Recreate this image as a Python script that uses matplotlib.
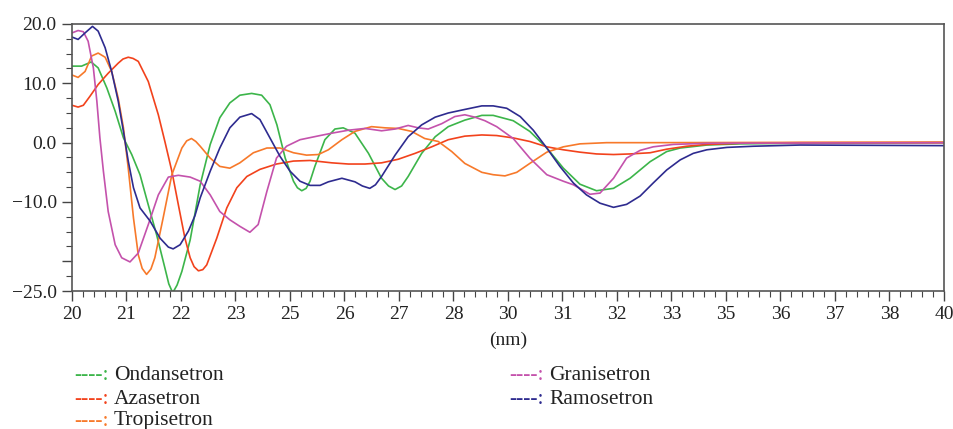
import matplotlib
matplotlib.use("Agg")
import matplotlib.pyplot as plt
from matplotlib.ticker import MultipleLocator

plt.rcParams['font.family'] = ['Liberation Serif', 'DejaVu Serif']

#### DATA ####

# wavelength (nm) / CD signal
ond_x = [200.0, 202.2, 204.4, 206.0, 208.0, 209.9, 211.8, 213.7, 215.6, 217.5, 219.4, 221.3,
         222.2, 223.1, 224.1, 225.2, 227.1, 229.4, 231.7, 233.9, 236.2, 238.5, 241.2, 243.5,
         245.4, 247.0, 248.9, 250.8, 251.7, 252.7, 253.7, 254.6, 255.7, 258.0, 260.3, 262.2,
         264.9, 268.0, 271.0, 272.6, 274.1, 275.6, 277.1, 280.2, 283.3, 286.3, 290.1, 294.0,
         296.6, 301.2, 305.0, 308.9, 312.7, 316.5, 320.3, 324.2, 328.0, 332.6, 336.4, 339.5,
         345.6, 353.2, 367.0, 400.0]
ond_y = [12.9, 12.9, 13.6, 12.6, 9.2, 5.3, 0.8, -2.0, -5.4, -10.5, -15.5, -21.1,
         -23.8, -25.3, -24.0, -21.7, -16.4, -7.1, -0.3, 4.2, 6.7, 8.0, 8.3, 8.0,
         6.4, 3.0, -2.6, -6.5, -7.6, -8.1, -7.7, -6.5, -4.0, 0.5, 2.3, 2.5,
         1.6, -1.8, -6.0, -7.3, -7.9, -7.3, -5.7, -1.8, 1.0, 2.7, 3.8, 4.6,
         4.6, 3.7, 1.9, -0.9, -4.3, -7.0, -8.1, -7.7, -6.0, -3.2, -1.5, -0.9,
         -0.4, -0.2, -0.1, 0.0]

aza_x = [200.0, 201.4, 202.6, 204.1, 206.0, 208.3, 210.6, 211.7, 212.9, 214.0, 215.2, 217.5,
         219.8, 221.3, 222.9, 224.4, 225.9, 227.1, 228.0, 229.0, 230.0, 230.9, 233.2, 235.5,
         237.8, 240.1, 243.1, 246.9, 250.8, 254.6, 259.6, 263.4, 267.2, 271.0, 274.8, 278.7,
         282.5, 286.3, 290.1, 294.0, 297.4, 301.2, 305.0, 308.9, 312.7, 316.5, 320.3, 324.2,
         328.0, 332.6, 336.4, 341.0, 345.6, 353.2, 367.0, 400.0]
aza_y = [6.3, 6.0, 6.3, 7.8, 9.8, 11.7, 13.4, 14.1, 14.4, 14.2, 13.7, 10.3,
         4.7, 0.2, -4.8, -10.5, -16.1, -19.4, -20.9, -21.6, -21.4, -20.6, -16.1, -11.0,
         -7.6, -5.7, -4.5, -3.6, -3.1, -3.0, -3.4, -3.6, -3.6, -3.4, -2.8, -1.8,
         -0.7, 0.5, 1.1, 1.3, 1.2, 0.8, 0.2, -0.7, -1.2, -1.6, -1.9, -2.0,
         -1.9, -1.7, -1.1, -0.6, -0.3, -0.1, 0.0, 0.0]

tro_x = [200.0, 201.4, 203.0, 204.5, 206.0, 207.6, 209.1, 210.6, 211.8, 212.9, 214.1, 215.2,
         216.1, 217.1, 218.1, 219.0, 220.9, 222.9, 225.2, 226.3, 227.4, 228.4, 229.4, 231.7,
         233.9, 236.2, 238.5, 241.6, 244.7, 247.7, 250.8, 253.8, 256.5, 258.8, 261.9, 264.9,
         268.7, 271.8, 274.8, 277.9, 280.9, 284.0, 287.1, 290.1, 294.0, 296.6, 299.3, 302.0,
         305.0, 308.9, 312.7, 316.5, 322.6, 332.6, 400.0]
tro_y = [11.4, 11.0, 12.0, 14.6, 15.1, 14.4, 12.0, 7.5, 2.5, -4.3, -12.7, -18.9,
         -21.2, -22.2, -21.3, -19.4, -12.7, -5.4, -0.9, 0.3, 0.7, 0.2, -0.6, -2.6,
         -4.0, -4.3, -3.4, -1.7, -0.9, -0.9, -1.7, -2.1, -2.0, -1.2, 0.5, 1.9,
         2.7, 2.5, 2.4, 1.9, 0.7, 0.2, -1.5, -3.5, -5.0, -5.4, -5.6, -5.0,
         -3.5, -1.6, -0.7, -0.2, 0.0, 0.0, 0.1]

gra_x = [200.0, 201.4, 202.6, 203.7, 204.9, 205.7, 206.4, 207.2, 208.3, 209.9, 211.4, 213.3,
         215.2, 217.5, 219.8, 222.1, 224.4, 227.1, 229.4, 231.7, 233.9, 236.2, 238.5, 240.8,
         242.7, 244.7, 246.9, 249.2, 252.3, 256.9, 259.6, 263.4, 267.2, 271.0, 274.1, 277.1,
         279.4, 281.7, 284.8, 287.8, 290.1, 292.4, 294.7, 297.4, 301.2, 305.0, 308.9, 312.7,
         315.0, 318.8, 321.1, 324.2, 327.2, 330.3, 333.3, 337.9, 345.6, 400.0]
gra_y = [18.5, 18.9, 18.7, 17.1, 12.6, 7.0, 0.8, -4.8, -11.6, -17.2, -19.4, -20.1,
         -18.6, -13.8, -8.8, -5.8, -5.5, -5.8, -6.5, -8.8, -11.6, -13.0, -14.1, -15.1,
         -13.8, -8.2, -2.6, -0.6, 0.5, 1.2, 1.6, 2.1, 2.4, 2.0, 2.3, 2.9,
         2.5, 2.3, 3.2, 4.4, 4.7, 4.3, 3.7, 2.7, 0.7, -2.6, -5.4, -6.5,
         -7.1, -8.7, -8.5, -6.0, -2.6, -1.3, -0.7, -0.3, -0.1, 0.0]

ram_x = [200.0, 201.4, 203.0, 204.7, 206.0, 207.6, 209.1, 210.6, 211.8, 212.9, 214.1, 215.6,
         217.9, 220.2, 222.1, 223.2, 224.8, 226.7, 228.2, 229.4, 231.7, 233.9, 236.2, 238.5,
         241.2, 243.1, 245.4, 247.7, 250.0, 252.3, 254.6, 256.9, 258.8, 261.9, 264.9, 266.6,
         268.3, 269.6, 271.0, 274.1, 277.1, 280.2, 283.3, 286.3, 290.1, 294.0, 296.6, 299.7,
         302.8, 305.8, 308.9, 311.9, 315.0, 318.0, 321.1, 324.2, 327.2, 330.3, 333.3, 336.4,
         339.5, 342.5, 345.6, 350.2, 356.3, 367.0, 400.0]
ram_y = [17.8, 17.4, 18.5, 19.6, 18.8, 16.0, 12.0, 7.0, 1.9, -3.1, -7.6, -11.0,
         -13.2, -16.1, -17.6, -17.9, -17.2, -14.9, -12.3, -9.3, -4.8, -0.9, 2.5, 4.3,
         4.9, 3.9, 0.8, -2.3, -4.8, -6.5, -7.2, -7.2, -6.6, -6.0, -6.6, -7.3,
         -7.7, -7.1, -5.7, -2.1, 1.0, 3.0, 4.3, 5.0, 5.6, 6.2, 6.2, 5.8,
         4.4, 2.1, -0.9, -4.0, -6.8, -8.8, -10.2, -10.9, -10.4, -9.0, -6.8, -4.6,
         -2.9, -1.8, -1.2, -0.8, -0.6, -0.4, -0.5]

names = ["Ondansetron", "Azasetron", "Tropisetron", "Granisetron", "Ramosetron"]
colors = ["#3cb54a", "#f2421c", "#f7792a", "#c452ac", "#2e2b8f"]

x_ticks = [200 + 12.5 * i for i in range(17)]
x_labels = ["20", "21", "22", "23", "25", "26", "27", "28", "30",
            "31", "32", "33", "35", "36", "37", "38", "40"]
y_ticks = [20, 10, 0, -10, -20, -25]
y_labels = ["20.0", "10.0", "0.0", "\u221210.0", "", "\u221225.0"]

#### PLOT ####

fig = plt.figure(figsize=(9.54, 4.29), dpi=100)
ax = fig.add_axes([72 / 954, 1 - 291 / 429, 872 / 954, 267 / 429])

series = [(ond_x, ond_y), (aza_x, aza_y), (tro_x, tro_y), (gra_x, gra_y), (ram_x, ram_y)]
for (xs, ys), c in zip(series, colors):
    ax.plot(xs, ys, color=c, lw=1.2)

ax.set_xlim(200, 400)
ax.set_ylim(-25, 20)
ax.set_xticks(x_ticks)
ax.set_xticklabels(x_labels)
ax.set_yticks(y_ticks)
ax.set_yticklabels(y_labels)
ax.xaxis.set_minor_locator(MultipleLocator(2.5))
ax.yaxis.set_minor_locator(MultipleLocator(2.5))
ax.tick_params(which="major", length=7, width=1, color="#444444", labelsize=14,
               labelcolor="#222222", pad=4)
ax.tick_params(which="minor", length=4, width=0.8, color="#444444")
for s in ax.spines.values():
    s.set_color("#555555")
    s.set_linewidth(1.2)
ax.set_xlabel("(nm)", fontsize=14, color="#222222", labelpad=6)

# legend as in the original: coloured "----:" then the name
legend_pos = [(74, 376), (74, 399), (74, 421), (509, 376), (509, 399)]
for name, c, (px, py) in zip(names, colors, legend_pos):
    fig.text(px / 954, 1 - py / 429, "----:", color=c, fontsize=15.5, va="center")
    fig.text((px + 40) / 954, 1 - py / 429, name, color="#222222", fontsize=15.5, va="center")

fig.savefig("out.png", dpi=100)
